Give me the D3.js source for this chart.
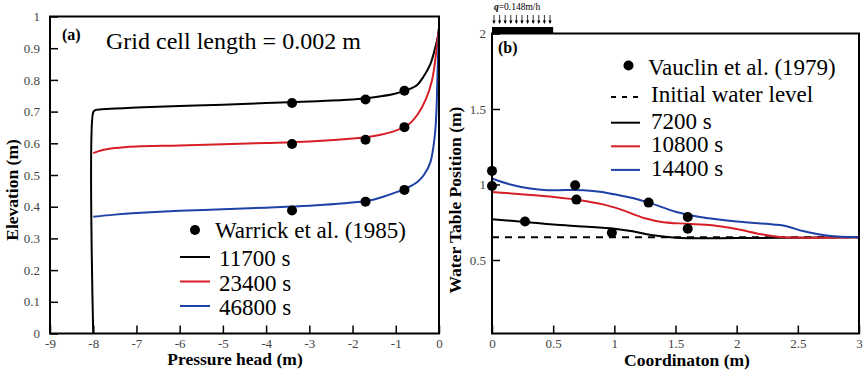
<!DOCTYPE html>
<html>
<head>
  <meta charset="utf-8">
  <script src="https://d3js.org/d3.v7.min.js"></script>
  <style>
    body { margin: 0; background: #fff; }
    svg { display: block; }
    .tick line { stroke: #000; stroke-width: 1.5px; }
    .curve { fill: none; stroke-width: 2px; }
  </style>
</head>
<body>
<script>
  /* panel (a) - pressure head vs elevation */
  var headTicks = [-9, -8, -7, -6, -5, -4, -3, -2, -1, 0];
  var elevTicks = [0, 0.1, 0.2, 0.3, 0.4, 0.5, 0.6, 0.7, 0.8, 0.9, 1];

  var a11700 = [[-8,0],[-8,0.698],[-7.96,0.704],[-7.7,0.708],[-7,0.713],[-6,0.718],[-5,0.722],
    [-4,0.727],[-3,0.732],[-2,0.738],[-1.5,0.745],[-1,0.757],[-0.7,0.77],[-0.5,0.785],
    [-0.36,0.81],[-0.2,0.85],[-0.1,0.895],[-0.03,0.935],[0,0.965]];
  var a23400 = [[-8,0.569],[-7.8,0.578],[-7.5,0.585],[-7,0.59],[-6,0.593],[-5,0.597],[-4,0.601],
    [-3,0.606],[-2,0.615],[-1.5,0.623],[-1,0.64],[-0.7,0.66],[-0.5,0.69],[-0.3,0.74],
    [-0.16,0.8],[-0.08,0.87],[-0.03,0.93],[0,0.96]];
  var a46800 = [[-8,0.368],[-7.5,0.375],[-7,0.38],[-6,0.387],[-5,0.392],[-4,0.397],[-3,0.403],
    [-2,0.413],[-1.5,0.423],[-1,0.445],[-0.7,0.462],[-0.5,0.478],[-0.35,0.5],[-0.2,0.54],
    [-0.1,0.62],[-0.06,0.7],[-0.03,0.84],[0,0.96]];
  var warrick = [[-3.4,0.727],[-1.7,0.738],[-0.8,0.766],
                 [-3.4,0.598],[-1.7,0.611],[-0.8,0.651],
                 [-3.4,0.388],[-1.7,0.416],[-0.8,0.453]];
  var legendA = ["11700 s", "23400 s", "46800 s"];

  /* panel (b) - water table position */
  var coordTicks = [0, 0.5, 1, 1.5, 2, 2.5, 3];
  var wtTicks = [0.5, 1, 1.5, 2];
  var initialLevel = [[0,0.65],[3,0.65]];
  var b7200 = [[0,0.77],[0.27,0.752],[0.5,0.735],[0.75,0.722],[1.0,0.707],[1.15,0.69],
    [1.3,0.665],[1.5,0.648],[2,0.645],[2.5,0.648],[3,0.65]];
  var b10800 = [[0,0.95],[0.4,0.925],[0.7,0.898],[0.9,0.87],[1.05,0.835],[1.25,0.776],
    [1.4,0.75],[1.6,0.74],[1.8,0.73],[2.0,0.705],[2.2,0.67],[2.35,0.652],[2.6,0.648],[3,0.65]];
  var b14400 = [[0,1.04],[0.15,1.0],[0.3,0.975],[0.45,0.962],[0.6,0.963],[0.75,0.962],
    [0.9,0.95],[1.0,0.935],[1.15,0.91],[1.3,0.875],[1.5,0.82],[1.7,0.785],[2.0,0.755],
    [2.3,0.735],[2.4,0.725],[2.55,0.69],[2.75,0.66],[3,0.65]];
  var vauclin = [[0,1.09],[0,0.99],[0.27,0.755],[0.68,0.995],[0.69,0.9],[0.98,0.68],
                 [1.28,0.88],[1.6,0.785],[1.6,0.707]];
  var legendB = ["7200 s", "10800 s", "14400 s"];

  var colors = ["#000000", "#d61f26", "#1d41a5"];
  var serif = "Liberation Serif";

  var svg = d3.select("body").append("svg")
      .attr("width", 863).attr("height", 370);

  var line = d3.line().curve(d3.curveCatmullRom.alpha(0.5));

  function styleTicks(g, pad) {
    g.select(".domain").remove();
    g.selectAll(".tick text")
        .style("font-family", serif).style("font-size", "13px").attr("fill", "#444");
  }

  // ---- panel (a)
  var xa = d3.scaleLinear().domain([-9, 0]).range([50, 439]);
  var ya = d3.scaleLinear().domain([0, 1]).range([333.5, 16.5]);

  var gA = svg.append("g");
  gA.append("g")
      .attr("transform", "translate(0,333.5)")
      .call(d3.axisBottom(xa).tickValues(headTicks).tickFormat(d => String(d))
              .tickSize(-8).tickPadding(5))
      .call(styleTicks);
  gA.append("g")
      .attr("transform", "translate(50,0)")
      .call(d3.axisLeft(ya).tickValues(elevTicks).tickFormat(d => String(d))
              .tickSize(-8).tickPadding(10))
      .call(styleTicks);

  [a11700, a23400, a46800].forEach(function(c, i) {
    gA.append("path").attr("class", "curve")
        .attr("stroke", colors[i])
        .attr("d", line(c.map(p => [xa(p[0]), ya(p[1])])));
  });

  gA.selectAll(".dotA").data(warrick).enter().append("circle")
      .attr("cx", d => xa(d[0])).attr("cy", d => ya(d[1])).attr("r", 5);

  gA.append("rect")
      .attr("x", xa(-9)).attr("y", ya(1))
      .attr("width", xa(0) - xa(-9)).attr("height", ya(0) - ya(1))
      .attr("fill", "none").attr("stroke", "#000").attr("stroke-width", 2);

  gA.append("text").attr("x", 62).attr("y", 40)
      .style("font-weight", "bold").style("font-size", "16px").text("(a)");
  gA.append("text").attr("x", 106).attr("y", 49)
      .style("font-size", "24px").text("Grid cell length = 0.002 m");

  gA.append("text").attr("class", "axis-title")
      .attr("x", 235).attr("y", 365).attr("text-anchor", "middle")
      .text("Pressure head (m)");
  gA.append("text").attr("class", "axis-title")
      .attr("transform", "translate(18,190) rotate(-90)")
      .attr("text-anchor", "middle")
      .text("Elevation (m)");

  // legend (a)
  gA.append("circle").attr("cx", 195).attr("cy", 230).attr("r", 5);
  gA.append("text").attr("class", "legend").attr("x", 215).attr("y", 238)
      .text("Warrick et al. (1985)");
  legendA.forEach(function(lab, i) {
    var yy = 257 + i * 24.5;
    gA.append("line").attr("x1", 180).attr("x2", 210)
        .attr("y1", yy).attr("y2", yy)
        .attr("stroke", colors[i]).attr("stroke-width", 2);
    gA.append("text").attr("class", "legend").attr("x", 219).attr("y", yy + 9)
        .text(lab);
  });

  // ---- panel (b)
  var xb = d3.scaleLinear().domain([0, 3]).range([492, 859]);
  var yb = d3.scaleLinear().domain([0, 2]).range([335.5, 33.5]);

  var gB = svg.append("g");
  gB.append("g")
      .attr("transform", "translate(0,333.5)")
      .call(d3.axisBottom(xb).tickValues(coordTicks).tickFormat(d => String(d))
              .tickSize(-8).tickPadding(5))
      .call(styleTicks);
  gB.append("g")
      .attr("transform", "translate(492,0)")
      .call(d3.axisLeft(yb).tickValues(wtTicks).tickFormat(d => String(d))
              .tickSize(-8).tickPadding(6))
      .call(styleTicks);

  gB.append("path").attr("class", "curve")
      .attr("stroke", "#000").attr("stroke-dasharray", "7,6")
      .attr("d", line(initialLevel.map(p => [xb(p[0]), yb(p[1])])));

  [b7200, b10800, b14400].forEach(function(c, i) {
    gB.append("path").attr("class", "curve")
        .attr("stroke", colors[i])
        .attr("d", line(c.map(p => [xb(p[0]), yb(p[1])])));
  });

  gB.selectAll(".dotB").data(vauclin).enter().append("circle")
      .attr("cx", d => xb(d[0])).attr("cy", d => yb(d[1])).attr("r", 5);

  gB.append("rect")
      .attr("x", xb(0)).attr("y", yb(2))
      .attr("width", xb(3) - xb(0)).attr("height", 333.5 - yb(2))
      .attr("fill", "none").attr("stroke", "#000").attr("stroke-width", 2);

  // infiltration bar + arrows over 0..0.5 m
  gB.append("rect")
      .attr("x", xb(0)).attr("y", 27)
      .attr("width", xb(0.5) - xb(0)).attr("height", 6)
      .attr("fill", "#000");
  d3.range(11).forEach(function(i) {
    var ax = xb(0) + 2 + i * 5.6;
    gB.append("line").attr("x1", ax).attr("x2", ax).attr("y1", 15).attr("y2", 23)
        .attr("stroke", "#000").attr("stroke-width", 0.8);
    gB.append("path")
        .attr("d", "M" + (ax - 1.6) + ",20.5L" + (ax + 1.6) + ",20.5L" + ax + ",24Z")
        .attr("fill", "#000");
  });
  var qLabel = gB.append("text").attr("x", 494).attr("y", 10).style("font-size", "9.5px");
  qLabel.append("tspan").style("font-weight", "bold").style("font-style", "italic").text("q");
  qLabel.append("tspan").text("=0.148m/h");

  gB.append("text").attr("x", 498).attr("y", 53)
      .style("font-weight", "bold").style("font-size", "16px").text("(b)");

  gB.append("text").attr("class", "axis-title")
      .attr("x", 687).attr("y", 366).attr("text-anchor", "middle")
      .text("Coordinaton (m)");
  gB.append("text").attr("class", "axis-title")
      .attr("transform", "translate(461,200) rotate(-90)")
      .attr("text-anchor", "middle")
      .text("Water Table Position (m)");

  // legend (b)
  gB.append("circle").attr("cx", 628.5).attr("cy", 65.5).attr("r", 5);
  gB.append("text").attr("class", "legend").attr("x", 648).attr("y", 75)
      .text("Vauclin et al. (1979)");
  gB.append("line").attr("x1", 611).attr("x2", 640).attr("y1", 97).attr("y2", 97)
      .attr("stroke", "#000").attr("stroke-width", 2).attr("stroke-dasharray", "5,6");
  gB.append("text").attr("class", "legend").attr("x", 651).attr("y", 102)
      .text("Initial water level");
  legendB.forEach(function(lab, i) {
    var yy = 122.7 + i * 23.6;
    gB.append("line").attr("x1", 611).attr("x2", 640)
        .attr("y1", yy).attr("y2", yy)
        .attr("stroke", colors[i]).attr("stroke-width", 2);
    gB.append("text").attr("class", "legend").attr("x", 651).attr("y", yy + 6)
        .text(lab);
  });

  // fonts set inline (stylesheet font rules were not picked up)
  svg.selectAll("text").style("font-family", serif);
  svg.selectAll(".axis-title").style("font-weight", "bold").style("font-size", "17.5px");
  svg.selectAll(".legend").style("font-size", "23px");
</script>
</body>
</html>
